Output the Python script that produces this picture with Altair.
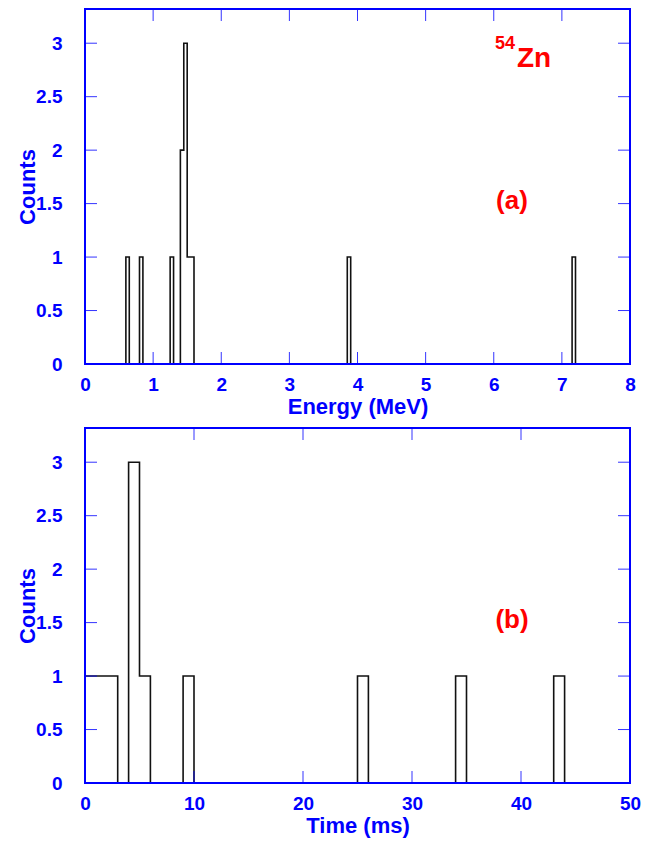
import altair as alt
import pandas as pd

# ---- data ----
energy_bin_lo = [0.60, 0.80, 1.25, 1.40, 1.45, 1.50, 1.55, 3.85, 7.15]
energy_counts = [1, 1, 1, 2, 3, 1, 1, 1, 1]
energy_bin_width = 0.05
energy_ticks = [0, 1, 2, 3, 4, 5, 6, 7, 8]

time_bin_lo = [0, 1, 2, 4, 5, 9, 25, 34, 43]
time_counts = [1, 1, 1, 3, 1, 1, 1, 1, 1]
time_bin_width = 1
time_ticks = [0, 10, 20, 30, 40, 50]

count_ticks = [0, 0.5, 1, 1.5, 2, 2.5, 3]
YMAX = 3.32

W, H = 545, 355
BLUE = "#0000ff"
RED = "#ff0000"
FONT = "Liberation Sans"


def step_table(lo, counts, width, xmin, xmax):
    start = {round(l, 4): c for l, c in zip(lo, counts)}
    edges = {xmin, xmax}
    for l in lo:
        edges.add(round(l, 4))
        edges.add(round(l + width, 4))
    return pd.DataFrame([{"v": e, "c": start.get(e, 0)} for e in sorted(edges)])


def panel(lo, counts, width, xticks, xtitle, texts):
    xmax = xticks[-1]
    xs = alt.Scale(domain=[0, xmax], nice=False, zero=False)
    ys = alt.Scale(domain=[0, YMAX], nice=False, zero=False)
    xaxis = alt.Axis(values=xticks, title=xtitle, labelPadding=11, titleY=32,
                     titleBaseline="top", format="~r", labelFlush=False)
    yaxis = alt.Axis(values=count_ticks, title="Counts", labelPadding=23,
                     titleX=-58, titleY=H / 2, titleBaseline="middle",
                     titleAngle=270, format="~r", labelFlush=False)
    hist = alt.Chart(step_table(lo, counts, width, 0, xmax)).mark_line(
        interpolate="step-after", color="#111111", strokeWidth=1.6
    ).encode(
        x=alt.X("v:Q", scale=xs, axis=xaxis),
        y=alt.Y("c:Q", scale=ys, axis=yaxis),
    )
    xt = pd.DataFrame({"v": xticks})
    yt = pd.DataFrame({"c": count_ticks})
    rule = dict(color=BLUE, strokeWidth=1, opacity=0.8)
    layers = [hist]
    layers.append(alt.Chart(xt).mark_rule(**rule).encode(
        x=alt.X("v:Q", scale=xs, axis=xaxis), y=alt.value(H), y2=alt.value(H - 12)))
    layers.append(alt.Chart(xt).mark_rule(**rule).encode(
        x=alt.X("v:Q", scale=xs, axis=xaxis), y=alt.value(0), y2=alt.value(12)))
    layers.append(alt.Chart(yt).mark_rule(**rule).encode(
        y=alt.Y("c:Q", scale=ys, axis=yaxis), x=alt.value(0), x2=alt.value(12)))
    layers.append(alt.Chart(yt).mark_rule(**rule).encode(
        y=alt.Y("c:Q", scale=ys, axis=yaxis), x=alt.value(W), x2=alt.value(W - 12)))
    layers.append(alt.Chart(pd.DataFrame({"a": [0]})).mark_rect(
        filled=False, stroke=BLUE, strokeWidth=2).encode(
        x=alt.value(0), x2=alt.value(W), y=alt.value(0), y2=alt.value(H)))
    for t, px, py, size, align, base in texts:
        layers.append(alt.Chart(pd.DataFrame({"t": [t]})).mark_text(
            font=FONT, fontWeight="bold", fontSize=size, color=RED,
            align=align, baseline=base).encode(
            x=alt.value(px), y=alt.value(py), text="t:N"))
    return alt.layer(*layers).properties(width=W, height=H)


top = panel(energy_bin_lo, energy_counts, energy_bin_width, energy_ticks,
            "Energy (MeV)",
            [("(a)", 427, 192, 26, "center", "middle"),
             ("54", 410, 40, 18, "left", "alphabetic"),
             ("Zn", 432, 58, 28, "left", "alphabetic")])
bottom = panel(time_bin_lo, time_counts, time_bin_width, time_ticks,
               "Time (ms)",
               [("(b)", 427, 192, 26, "center", "middle")])

chart = alt.vconcat(top, bottom, spacing=10).properties(
    padding={"left": 8, "top": 0, "right": 5, "bottom": 5}
).configure_view(stroke=None).configure_axis(
    labelFont=FONT, labelFontWeight="bold", labelFontSize=19, labelColor=BLUE,
    titleFont=FONT, titleFontWeight="bold", titleFontSize=22, titleColor=BLUE,
    ticks=False, domain=False, grid=False,
)

chart.save("out.html", embed_options={"renderer": "svg", "actions": False})
